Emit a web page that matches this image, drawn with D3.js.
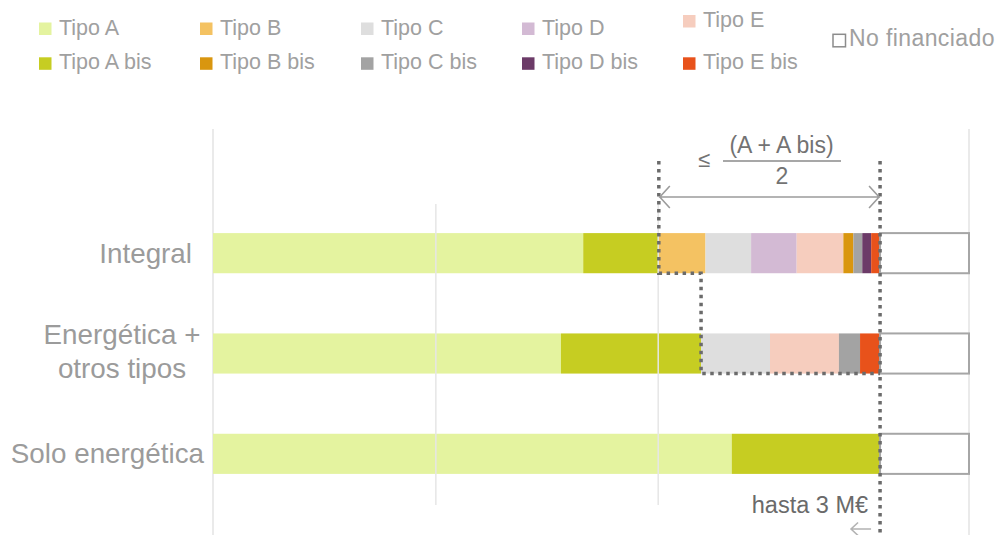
<!DOCTYPE html>
<html>
<head>
<meta charset="utf-8">
<script src="https://cdnjs.cloudflare.com/ajax/libs/d3/7.8.5/d3.min.js"></script>
<style>
  body { margin: 0; background: #fff; }
  text { font-family: "Liberation Sans", Arial, sans-serif; }
</style>
</head>
<body>
<svg id="chart"></svg>
<script>
// categories (top to bottom) and their label lines
var categories = ["Integral", "Energética + otros tipos", "Solo energética"];
var categoryLines = [["Integral"], ["Energética +", "otros tipos"], ["Solo energética"]];

// values in M€, one entry per category
var tipoA       = [1.665, 1.565, 2.333];
var tipoAbis    = [0.340, 0.630, 0.667];
var tipoB       = [0.210, 0,     0];
var tipoC       = [0.205, 0.310, 0];
var tipoD       = [0.205, 0,     0];
var tipoE       = [0.210, 0.310, 0];
var tipoBbis    = [0.045, 0,     0];
var tipoCbis    = [0.040, 0.095, 0];
var tipoDbis    = [0.040, 0,     0];
var tipoEbis    = [0.040, 0.090, 0];
var noFinanciado = [0.4,  0.4,   0.4];

var maxFunding = 3;          // "hasta 3 M€"
var gridShort = [1, 2];
var gridLong = [0, 3.4];

// order in which segments are stacked in the bars
var stackKeys = ["Tipo A", "Tipo A bis", "Tipo B", "Tipo C", "Tipo D", "Tipo E",
                 "Tipo B bis", "Tipo C bis", "Tipo D bis", "Tipo E bis", "No financiado"];
var seriesValues = {
  "Tipo A": tipoA, "Tipo A bis": tipoAbis, "Tipo B": tipoB, "Tipo C": tipoC,
  "Tipo D": tipoD, "Tipo E": tipoE, "Tipo B bis": tipoBbis, "Tipo C bis": tipoCbis,
  "Tipo D bis": tipoDbis, "Tipo E bis": tipoEbis, "No financiado": noFinanciado
};

// legend: two rows of five, plus "No financiado"
var legendTop = ["Tipo A", "Tipo B", "Tipo C", "Tipo D", "Tipo E"];
var legendBottom = ["Tipo A bis", "Tipo B bis", "Tipo C bis", "Tipo D bis", "Tipo E bis"];

var colors = {
  "Tipo A": "#e4f39f", "Tipo A bis": "#c6cd22",
  "Tipo B": "#f4c262", "Tipo B bis": "#d9960f",
  "Tipo C": "#dedede", "Tipo C bis": "#a3a3a3",
  "Tipo D": "#d3bad4", "Tipo D bis": "#6c3b68",
  "Tipo E": "#f6cdbe", "Tipo E bis": "#e8521b",
  "No financiado": "#ffffff"
}

var dimensions = {
  width: 1004,
  height: 535,
  left: 213,
  right: 969,
  bandTop: 203,
  bandBottom: 504
}

var svg = d3.select("#chart")
            .attr("width", dimensions.width)
            .attr("height", dimensions.height)

var table = categories.map((c, i) => {
  var row = { category: c }
  stackKeys.forEach(k => row[k] = seriesValues[k][i])
  return row
})

var stacked = d3.stack().keys(stackKeys)(table)

var xScale = d3.scaleLinear()
               .domain([0, 3.4])
               .range([dimensions.left, dimensions.right])

var yScale = d3.scaleBand()
               .domain(categories)
               .range([dimensions.bandTop, dimensions.bandBottom])
               .paddingInner(0.6)
               .paddingOuter(0.3)

// long frame lines (0 and end of axis)
svg.append("g")
   .selectAll("line")
   .data(gridLong)
   .join("line")
   .attr("x1", d => xScale(d)).attr("x2", d => xScale(d))
   .attr("y1", 129).attr("y2", dimensions.height)
   .style("stroke", "#e3e3e3")
   .style("stroke-width", 1.5)

// bars
svg.append("g")
   .selectAll("g")
   .data(stacked)
   .join("g")
   .style("fill", d => colors[d.key])
   .style("stroke", d => d.key == "No financiado" ? "#a6a6a6" : "none")
   .style("stroke-width", 2)
   .selectAll("rect")
   .data(d => d.filter(s => s[1] - s[0] > 0))
   .join("rect")
   .attr("x", d => xScale(d[0]))
   .attr("y", d => yScale(d.data.category))
   .attr("width", d => xScale(d[1]) - xScale(d[0]))
   .attr("height", yScale.bandwidth())

// inner grid lines, drawn over the bars
var xGrid = d3.axisTop(xScale)
              .tickValues(gridShort)
              .tickSize(-(dimensions.bandBottom - dimensions.bandTop))
              .tickFormat("")
var grid = svg.append("g")
              .attr("transform", `translate(0,${dimensions.bandTop + 1})`)
              .call(xGrid)
grid.select(".domain").remove()
grid.selectAll("line")
    .style("stroke", "#e6e6e6")
    .style("stroke-width", 1.5)

// category labels
var labels = svg.append("g")
                .selectAll("text")
                .data(categories)
                .join("text")
                .attr("text-anchor", (d, i) => categoryLines[i].length > 1 ? "middle" : "end")
                .attr("x", (d, i) => categoryLines[i].length > 1 ? 122 : (i == 0 ? 192 : 204))
                .attr("y", d => yScale(d) + yScale.bandwidth() / 2)
                .style("font-size", "27.8px")
                .style("fill", "#9b9b9b")
labels.selectAll("tspan")
      .data((d, i) => categoryLines[i].map((l, j, arr) => ({ text: l, j: j, n: arr.length })))
      .join("tspan")
      .attr("x", function () { return d3.select(this.parentNode).attr("x") })
      .attr("dy", d => d.n > 1 ? (d.j == 0 ? "-0.33em" : "1.2em") : "0.34em")
      .text(d => d.text)

// dotted outline of the capped part
var iInt = 0, iEn = 1
var xInt = xScale(tipoA[iInt] + tipoAbis[iInt])
var xEn = xScale(tipoA[iEn] + tipoAbis[iEn])
var xMax = xScale(maxFunding)
var yIntBottom = yScale(categories[iInt]) + yScale.bandwidth()
var yEnBottom = yScale(categories[iEn]) + yScale.bandwidth()
var dotTop = 161

var dotted = d3.path()
dotted.moveTo(xInt, dotTop)
dotted.lineTo(xInt, yIntBottom)
dotted.lineTo(xEn, yIntBottom)
dotted.lineTo(xEn, yEnBottom)
dotted.lineTo(xMax, yEnBottom)
dotted.moveTo(xMax, dotTop)
dotted.lineTo(xMax, dimensions.height)

svg.append("path")
   .attr("d", dotted.toString())
   .style("fill", "none")
   .style("stroke", "#6b6b6b")
   .style("stroke-width", 3.5)
   .style("stroke-dasharray", "3.5,4.5")

// double arrow on top
var arrowY = 197
var arrow = d3.path()
arrow.moveTo(xInt, arrowY); arrow.lineTo(xMax, arrowY)
arrow.moveTo(xInt + 11, arrowY - 11); arrow.lineTo(xInt + 1, arrowY); arrow.lineTo(xInt + 11, arrowY + 11)
arrow.moveTo(xMax - 11, arrowY - 11); arrow.lineTo(xMax - 1, arrowY); arrow.lineTo(xMax - 11, arrowY + 11)
svg.append("path")
   .attr("d", arrow.toString())
   .style("fill", "none")
   .style("stroke", "#9c9c9c")
   .style("stroke-width", 1.6)

// formula  ≤ (A + A bis) / 2
var formula = svg.append("g").style("fill", "#737373")
formula.append("text")
       .attr("x", 704).attr("y", 167)
       .attr("text-anchor", "middle")
       .style("font-size", "22px")
       .text("≤")
formula.append("text")
       .attr("x", 781.5).attr("y", 153)
       .attr("text-anchor", "middle")
       .style("font-size", "23px")
       .text("(A + A bis)")
formula.append("line")
       .attr("x1", 723).attr("x2", 841)
       .attr("y1", 161).attr("y2", 161)
       .style("stroke", "#8a8a8a")
       .style("stroke-width", 1.5)
formula.append("text")
       .attr("x", 782).attr("y", 183.5)
       .attr("text-anchor", "middle")
       .style("font-size", "23px")
       .text("2")

// "hasta 3 M€" with small arrow
svg.append("text")
   .attr("x", xMax - 12).attr("y", 513)
   .attr("text-anchor", "end")
   .style("font-size", "23.5px")
   .style("fill", "#6a6a6a")
   .text("hasta 3 M€")
var small = d3.path()
small.moveTo(xMax - 9, 529); small.lineTo(xMax - 29, 529)
small.moveTo(xMax - 22, 522.5); small.lineTo(xMax - 29, 529); small.lineTo(xMax - 22, 535.5)
svg.append("path")
   .attr("d", small.toString())
   .style("fill", "none")
   .style("stroke", "#b3b3b3")
   .style("stroke-width", 1.6)

// legend
var legendX = d3.scalePoint().domain(d3.range(5)).range([39, 683])
function legendItem(g, name, x, y) {
  var item = g.append("g").attr("transform", `translate(${x},${y})`)
  item.append("rect")
      .attr("x", 0).attr("y", -12)
      .attr("width", 12.5).attr("height", 12.5)
      .style("fill", colors[name])
      .style("stroke", name == "No financiado" ? "#8c8c8c" : "none")
      .style("stroke-width", 1.5)
  item.append("text")
      .attr("x", name == "No financiado" ? 16 : 20)
      .attr("y", 0)
      .style("font-size", name == "No financiado" ? "23px" : "21.5px")
      .style("letter-spacing", name == "No financiado" ? "0.4px" : "0px")
      .style("fill", "#a0a0a0")
      .text(name)
}
var legend = svg.append("g")
legendTop.forEach((k, i) => legendItem(legend, k, legendX(i), k == "Tipo E" ? 27 : 34.5))
legendBottom.forEach((k, i) => legendItem(legend, k, legendX(i), 69.3))
legendItem(legend, "No financiado", 833, 46.3)
</script>
</body>
</html>
